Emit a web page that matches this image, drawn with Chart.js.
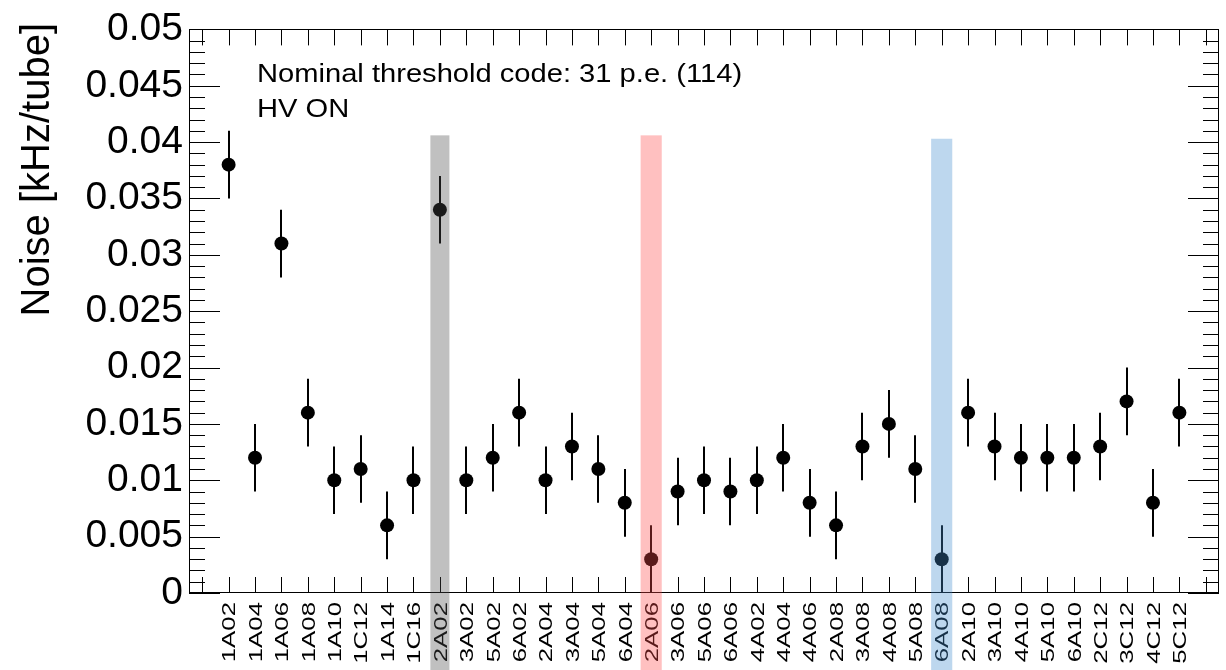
<!DOCTYPE html>
<html><head><meta charset="utf-8">
<script src="https://cdn.jsdelivr.net/npm/chart.js@4"></script>
<style>html,body{margin:0;padding:0;background:#fff;overflow:hidden}#wrap{width:1226px;height:670px}</style>
</head><body><div id="wrap"><canvas id="c" width="1226" height="670"></canvas></div>
<script>
// ---------- data ----------
const categories = ['1A02','1A04','1A06','1A08','1A10','1C12','1A14','1C16',
  '2A02','3A02','5A02','6A02','2A04','3A04','5A04','6A04',
  '2A06','3A06','5A06','6A06','4A02','4A04','4A06',
  '2A08','3A08','4A08','5A08','6A08',
  '2A10','3A10','4A10','5A10','6A10',
  '2C12','3C12','4C12','5C12'];
const noise = [0.038,0.012,0.031,0.016,0.010,0.011,0.006,0.010,
  0.034,0.010,0.012,0.016,0.010,0.013,0.011,0.008,
  0.003,0.009,0.010,0.009,0.010,0.012,0.008,
  0.006,0.013,0.015,0.011,0.003,
  0.016,0.013,0.012,0.012,0.012,
  0.013,0.017,0.008,0.016];
const noiseErr = [0.003,0.003,0.003,0.003,0.003,0.003,0.003,0.003,
  0.003,0.003,0.003,0.003,0.003,0.003,0.003,0.003,
  0.003,0.003,0.003,0.003,0.003,0.003,0.003,
  0.003,0.003,0.003,0.003,0.003,
  0.003,0.003,0.003,0.003,0.003,
  0.003,0.003,0.003,0.003];
const highlightCategories = ['2A02','2A06','6A08'];
const highlightTops = [0.0406, 0.0406, 0.0403];
const yTitle = 'Noise [kHz/tube]';
const annotationLines = ['Nominal threshold code: 31 p.e. (114)', 'HV ON'];

// ---------- styles ----------
const FONT = '"Liberation Sans", Arial, Helvetica, sans-serif';
const bandStyles = [
  {color:'rgba(75,75,75,0.35)', half:0.36},
  {color:'rgba(255,75,75,0.35)', half:0.40},
  {color:'rgba(66,141,206,0.35)', half:0.40}
];

const points = categories.map((c,i)=>({x:i+1, y:noise[i]}));

const custom = {
  id:'custom',
  beforeDatasetsDraw(chart){
    const {ctx, scales:{x,y}} = chart;
    ctx.save();
    ctx.strokeStyle='#000'; ctx.lineWidth=2;
    categories.forEach((c,i)=>{
      const px = Math.round(x.getPixelForValue(i+1));
      ctx.beginPath();
      ctx.moveTo(px, y.getPixelForValue(noise[i]-noiseErr[i]));
      ctx.lineTo(px, y.getPixelForValue(noise[i]+noiseErr[i]));
      ctx.stroke();
    });
    ctx.restore();
  },
  afterDraw(chart){
    const {ctx, chartArea:a, scales:{x,y}} = chart;
    ctx.save();
    // frame
    ctx.strokeStyle='#000'; ctx.lineWidth=1;
    ctx.strokeRect(Math.round(a.left)+0.5, Math.round(a.top)+0.5, Math.round(a.right-a.left)-1, Math.round(a.bottom-a.top)-1);
    // y ticks
    ctx.beginPath();
    for(let k=0;k<=50;k++){
      const py = Math.round(y.getPixelForValue(k/1000))+0.5;
      const len = (k%5===0)?31:16;
      ctx.moveTo(a.left, py); ctx.lineTo(a.left+len, py);
      ctx.moveTo(a.right, py); ctx.lineTo(a.right-len, py);
    }
    // x ticks
    for(let k=0;k<=38;k++){
      const px = Math.round(x.getPixelForValue(k))+0.5;
      ctx.moveTo(px, a.bottom); ctx.lineTo(px, a.bottom-16);
      ctx.moveTo(px, a.top); ctx.lineTo(px, a.top+16);
    }
    ctx.stroke();
    // x labels (rotated, stretched)
    ctx.fillStyle='#000';
    ctx.font = '19px '+FONT;
    ctx.textAlign='right'; ctx.textBaseline='alphabetic';
    categories.forEach((c,i)=>{
      const px = x.getPixelForValue(i+1);
      ctx.save();
      ctx.translate(px, a.bottom+9);
      ctx.rotate(-Math.PI/2);
      ctx.scale(1.36,1);
      ctx.fillText(c, 0, 6.8);
      ctx.restore();
    });
    // y title
    ctx.save();
    ctx.font='40px '+FONT;
    ctx.translate(49, 23);
    ctx.rotate(-Math.PI/2);
    ctx.textAlign='right';
    ctx.fillText(yTitle, 0, 0);
    ctx.restore();
    // annotations
    ctx.save();
    ctx.font='26px '+FONT;
    ctx.textAlign='left';
    annotationLines.forEach((t,j)=>{
      ctx.save();
      ctx.translate(257, 82+35*j);
      ctx.scale(1.12,1);
      ctx.fillText(t,0,0);
      ctx.restore();
    });
    ctx.restore();
    // highlight bands (semi-transparent overlay)
    highlightCategories.forEach((c,j)=>{
      const idx = categories.indexOf(c)+1;
      const s = bandStyles[j];
      const x0 = x.getPixelForValue(idx - s.half);
      const x1 = x.getPixelForValue(idx + s.half);
      const yt = y.getPixelForValue(highlightTops[j]);
      ctx.fillStyle = s.color;
      ctx.fillRect(x0, yt, x1-x0, chart.height-yt);
    });
    ctx.restore();
  }
};

new Chart(document.getElementById('c'), {
  type:'scatter',
  data:{datasets:[{data:points, backgroundColor:'#000', borderWidth:0, pointRadius:7, pointHoverRadius:7, showLine:false}]},
  options:{
    responsive:false, animation:false, devicePixelRatio:1,
    layout:{padding:{top:27,right:3,left:0,bottom:0}},
    plugins:{legend:{display:false}, tooltip:{enabled:false}, title:{display:false}},
    events:[],
    scales:{
      x:{type:'linear', min:-0.5, max:38.5,
        grid:{display:false, drawTicks:false}, border:{display:false},
        ticks:{display:false},
        afterFit:s=>{s.height=77;}},
      y:{type:'linear', min:0, max:0.05,
        grid:{display:false, drawTicks:false}, border:{display:false},
        ticks:{stepSize:0.005, color:'#000', padding:6, font:{family:FONT, size:39},
          callback:v=>String(parseFloat(Number(v).toFixed(4)))},
        afterFit:s=>{s.width=189;}}
    }
  },
  plugins:[custom]
});
</script></body></html>
